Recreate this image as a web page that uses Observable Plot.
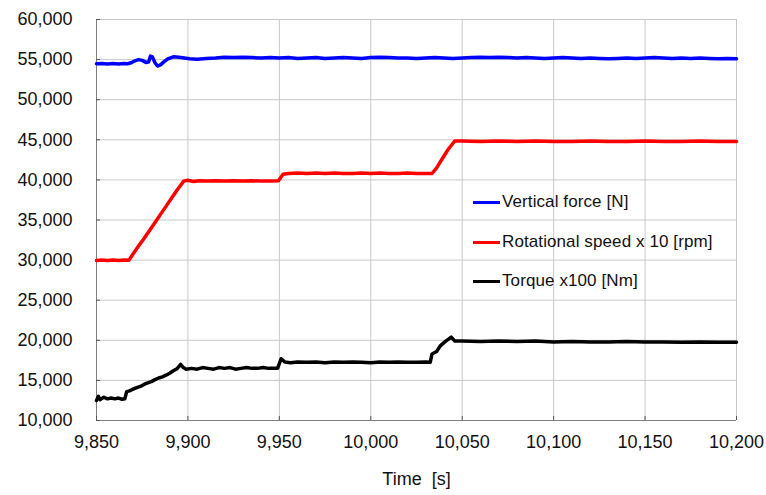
<!DOCTYPE html>
<html>
<head>
<meta charset="utf-8">
<script src="https://cdn.jsdelivr.net/npm/d3@7"></script>
<script src="https://cdn.jsdelivr.net/npm/@observablehq/plot@0.6"></script>
<style>
  html, body { margin: 0; padding: 0; background: #fff; }
  #wrap { position: relative; width: 766px; height: 495px; font-family: "Liberation Sans", Arial, sans-serif; }
  svg text { white-space: pre; }
  .lg { position: absolute; left: 473px; font-size: 17px; color: #111; display: flex; align-items: center; white-space: pre; letter-spacing: 0.1px; }
  .lg .bar { width: 27px; height: 3px; margin-right: 2px; }
</style>
</head>
<body>
<div id="wrap"></div>
<script>
// ---- data ----
const xTicks = [9850, 9900, 9950, 10000, 10050, 10100, 10150, 10200];
const yTicks = [10000, 15000, 20000, 25000, 30000, 35000, 40000, 45000, 50000, 55000, 60000];

const seriesNames = ["Vertical force [N]", "Rotational speed x 10 [rpm]", "Torque x100 [Nm]"];
const seriesColors = ["#0000ff", "#ff0000", "#000000"];

const forceT = [9850, 9853, 9856, 9859, 9862, 9865, 9867, 9869, 9871, 9873, 9875, 9877, 9878.5, 9879.5, 9880.5, 9882, 9883.5, 9885, 9887, 9889, 9892, 9895, 9898, 9901, 9905, 9910, 9915, 9920, 9925, 9930, 9935, 9940, 9945, 9950, 9955, 9960, 9965, 9970, 9975, 9980, 9985, 9990, 9995, 10000, 10005, 10010, 10015, 10020, 10025, 10030, 10035, 10040, 10045, 10050, 10055, 10060, 10065, 10070, 10075, 10080, 10085, 10090, 10095, 10100, 10105, 10110, 10115, 10120, 10125, 10130, 10135, 10140, 10145, 10150, 10155, 10160, 10165, 10170, 10175, 10180, 10185, 10190, 10195, 10200];
const forceV = [54480, 54520, 54440, 54500, 54460, 54520, 54480, 54600, 54850, 55000, 54900, 54650, 54700, 55450, 55350, 54600, 54200, 54350, 54750, 55100, 55350, 55300, 55200, 55100, 55050, 55150, 55200, 55300, 55250, 55300, 55250, 55200, 55250, 55200, 55250, 55150, 55200, 55250, 55150, 55200, 55250, 55200, 55150, 55250, 55300, 55250, 55200, 55200, 55150, 55200, 55250, 55200, 55150, 55200, 55250, 55300, 55250, 55300, 55250, 55200, 55250, 55200, 55150, 55200, 55250, 55200, 55150, 55200, 55150, 55100, 55150, 55200, 55150, 55200, 55250, 55200, 55150, 55200, 55150, 55200, 55150, 55100, 55150, 55100];

const speedT = [9850, 9853, 9856, 9859, 9862, 9865, 9867.7, 9870, 9873, 9876, 9879, 9882, 9885, 9888, 9891, 9894, 9897.7, 9900, 9903, 9906, 9910, 9915, 9920, 9925, 9930, 9935, 9940, 9945, 9949.5, 9952, 9955, 9960, 9965, 9970, 9975, 9980, 9985, 9990, 9995, 10000, 10005, 10010, 10015, 10020, 10025, 10030, 10033.5, 10036, 10039, 10042, 10045.9, 10050, 10060, 10070, 10080, 10090, 10100, 10110, 10120, 10130, 10140, 10150, 10160, 10170, 10180, 10190, 10200];
const speedV = [29950, 30000, 29950, 30000, 29950, 30000, 29980, 30750, 31750, 32700, 33700, 34700, 35700, 36700, 37700, 38700, 39850, 39950, 39800, 39900, 39850, 39900, 39850, 39900, 39850, 39900, 39850, 39850, 39900, 40700, 40800, 40850, 40800, 40850, 40800, 40850, 40800, 40800, 40850, 40800, 40850, 40800, 40800, 40850, 40800, 40800, 40800, 41500, 42600, 43700, 44850, 44850, 44800, 44850, 44800, 44850, 44800, 44800, 44850, 44800, 44800, 44850, 44800, 44800, 44850, 44800, 44800];

const torqueT = [9850, 9851, 9852, 9854, 9856, 9858, 9860, 9862, 9864, 9865.5, 9866.5, 9868, 9870, 9872, 9874, 9876, 9878, 9880, 9882, 9884, 9886, 9888, 9890, 9892, 9894, 9896, 9897.5, 9899, 9902, 9905, 9908, 9911, 9914, 9917, 9920, 9923, 9926, 9929, 9932, 9935, 9938, 9941, 9944, 9947, 9949, 9951, 9953, 9956, 9960, 9965, 9970, 9975, 9980, 9985, 9990, 9995, 10000, 10005, 10010, 10015, 10020, 10025, 10030, 10032.5, 10033.5, 10036, 10038, 10041, 10044, 10046, 10050, 10060, 10070, 10080, 10090, 10100, 10110, 10120, 10130, 10140, 10150, 10160, 10170, 10180, 10190, 10200];
const torqueV = [12500, 13000, 12600, 12900, 12700, 12800, 12700, 12800, 12650, 12700, 13600, 13700, 13900, 14100, 14250, 14500, 14700, 14850, 15100, 15300, 15450, 15650, 15900, 16200, 16450, 17000, 16600, 16400, 16500, 16400, 16600, 16500, 16400, 16600, 16500, 16600, 16400, 16500, 16600, 16500, 16500, 16600, 16500, 16500, 16500, 17700, 17300, 17200, 17300, 17250, 17300, 17200, 17300, 17250, 17300, 17250, 17200, 17300, 17250, 17300, 17250, 17250, 17300, 17250, 18300, 18600, 19300, 19900, 20400, 19900, 19900, 19850, 19900, 19850, 19900, 19800, 19850, 19800, 19800, 19850, 19800, 19800, 19750, 19800, 19750, 19750];

// ---- build table ----
const rows = [];
[[forceT, forceV], [speedT, speedV], [torqueT, torqueV]].forEach(([ts, vs], s) => {
  ts.forEach((t, i) => rows.push({t, v: vs[i], s: seriesNames[s]}));
});

const fmt = d3.format(",");
const font = "Liberation Sans, Arial, sans-serif";

const chart = Plot.plot({
  width: 766,
  height: 495,
  marginLeft: 96,
  marginRight: 30,
  marginTop: 19,
  marginBottom: 75,
  style: {fontFamily: font, fontSize: "18px", color: "#111", background: "#fff"},
  x: {domain: [xTicks[0], xTicks[xTicks.length - 1]]},
  y: {domain: [yTicks[0], yTicks[yTicks.length - 1]]},
  color: {domain: seriesNames, range: seriesColors},
  marks: [
    Plot.gridX(xTicks, {stroke: "#c8c8c8", strokeOpacity: 1}),
    Plot.gridY(yTicks, {stroke: "#c8c8c8", strokeOpacity: 1}),
    Plot.ruleX([xTicks[0]], {stroke: "#7f7f7f"}),
    Plot.ruleY([yTicks[0]], {stroke: "#7f7f7f"}),
    Plot.axisX(xTicks, {tickSize: -4, tickPadding: 19, tickFormat: fmt, stroke: "#555", label: null, fontSize: 18}),
    Plot.axisY(yTicks, {tickSize: -4, tickPadding: 28, tickFormat: fmt, stroke: "#555", label: null, fontSize: 18}),
    Plot.line(rows, {x: "t", y: "v", z: "s", stroke: "s", strokeWidth: 3.5, strokeLinejoin: "round", curve: "linear"}),
    Plot.text(["Time  [s]"], {frameAnchor: "bottom", dy: 59, lineAnchor: "middle", fontSize: 18, fill: "#111"})
  ]
});

const wrap = document.getElementById("wrap");
wrap.appendChild(chart);

const legendTops = [192, 232, 271];
seriesNames.forEach((name, i) => {
  const d = document.createElement("div");
  d.className = "lg";
  d.style.top = legendTops[i] + "px";
  const b = document.createElement("span");
  b.className = "bar";
  b.style.background = seriesColors[i];
  const t = document.createElement("span");
  t.textContent = name;
  d.appendChild(b); d.appendChild(t);
  wrap.appendChild(d);
});
</script>
</body>
</html>
